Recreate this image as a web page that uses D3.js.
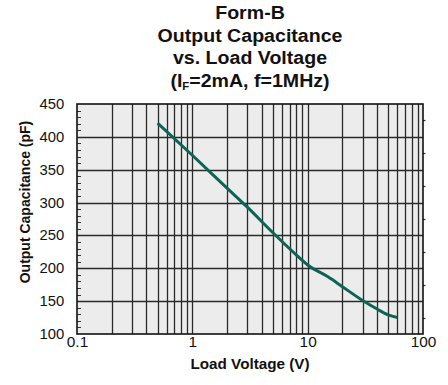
<!DOCTYPE html>
<html>
<head>
<meta charset="utf-8">
<script src="https://cdn.jsdelivr.net/npm/d3@7"></script>
<style>
  html, body { margin: 0; padding: 0; background: #fff; }
  svg { display: block; font-family: "Liberation Sans", Arial, Helvetica, sans-serif; }
</style>
</head>
<body>
<svg id="chart" width="448" height="385"></svg>
<script>
// Output capacitance vs. load voltage (Form-B)
const voltage = [0.5, 1, 2, 3, 5, 8, 10, 15, 20, 30, 40, 50, 60];
const capacitance = [421, 372, 322, 293, 254, 220, 205, 187, 172, 151, 138, 129, 125];

const xTickValues = [0.1, 1, 10, 100];
const xTickLabels = ["0.1", "1", "10", "100"];
const yTickValues = [100, 150, 200, 250, 300, 350, 400, 450];

const titleLines = ["Form-B", "Output Capacitance", "vs. Load Voltage"];

// the lettering is set slightly wide
const WIDE = 1.1;

const svg = d3.select("#chart");
const margin = { left: 77, right: 25, top: 104, bottom: 51 };
const W = 448, H = 385;
const x0 = margin.left, x1 = W - margin.right;
const y0 = H - margin.bottom, y1 = margin.top;

const x = d3.scaleLog().domain([0.1, 100]).range([x0, x1]);
const y = d3.scaleLinear().domain([100, 450]).range([y0, y1]);

// plot background
svg.append("rect")
  .attr("x", x0).attr("y", y1)
  .attr("width", x1 - x0).attr("height", y0 - y1)
  .attr("fill", "#ececed");

// log grid: every integer step within each decade
const xGrid = [];
for (let d = 0.1; d < 100; d *= 10) {
  for (let k = 1; k <= 9; k++) xGrid.push(+(d * k).toPrecision(3));
}
svg.append("g").selectAll("line").data(xGrid.filter(v => v > 0.1)).join("line")
  .attr("x1", d => Math.round(x(d)) + 0.5).attr("x2", d => Math.round(x(d)) + 0.5)
  .attr("y1", y1).attr("y2", y0)
  .attr("stroke", "#2a2a2a").attr("stroke-width", 1.3);

svg.append("g").selectAll("line").data(yTickValues.slice(1, -1)).join("line")
  .attr("x1", x0).attr("x2", x1)
  .attr("y1", d => Math.round(y(d)) + 0.5).attr("y2", d => Math.round(y(d)) + 0.5)
  .attr("stroke", "#2a2a2a").attr("stroke-width", 1.3);

// minor ticks on the left edge (every 10 pF, inward)
const leftMinor = d3.range(110, 450, 10).filter(v => v % 50 !== 0);
svg.append("g").selectAll("line").data(leftMinor).join("line")
  .attr("x1", x0).attr("x2", x0 + 4)
  .attr("y1", d => Math.round(y(d)) + 0.5).attr("y2", d => Math.round(y(d)) + 0.5)
  .attr("stroke", "#333").attr("stroke-width", 1);

// small ticks on the right edge at the half steps
const rightMinor = d3.range(125, 450, 50);
svg.append("g").selectAll("line").data(rightMinor).join("line")
  .attr("x1", x1).attr("x2", x1 + 2.5)
  .attr("y1", d => Math.round(y(d)) + 0.5).attr("y2", d => Math.round(y(d)) + 0.5)
  .attr("stroke", "#333").attr("stroke-width", 1.2);

// frame
svg.append("rect")
  .attr("x", x0).attr("y", y1)
  .attr("width", x1 - x0).attr("height", y0 - y1)
  .attr("fill", "none").attr("stroke", "#111").attr("stroke-width", 1.6);

// axes (labels only; lines are drawn by the grid and frame)
const xAxis = d3.axisBottom(x).tickValues(xTickValues)
  .tickFormat((d, i) => xTickLabels[i]).tickSize(0).tickPadding(3);
const gx = svg.append("g").attr("transform", `translate(0,${y0})`).call(xAxis);
gx.select(".domain").remove();
gx.selectAll("text").attr("font-size", 14).attr("fill", "#111")
  .attr("font-family", "Liberation Sans, Arial, sans-serif")
  .attr("transform", `scale(${WIDE},1)`);

const yAxis = d3.axisLeft(y).tickValues(yTickValues).tickFormat(d3.format("d"))
  .tickSize(0).tickPadding(12);
const gy = svg.append("g").attr("transform", `translate(${x0},0)`).call(yAxis);
gy.select(".domain").remove();
gy.selectAll("text").attr("font-size", 14).attr("fill", "#111")
  .attr("font-family", "Liberation Sans, Arial, sans-serif")
  .attr("transform", "scale(1.06,1)");

// curve
const line = d3.line()
  .x((d, i) => x(voltage[i]))
  .y(d => y(d))
  .curve(d3.curveMonotoneX);
svg.append("path")
  .datum(capacitance)
  .attr("d", line)
  .attr("fill", "none")
  .attr("stroke", "#0d6456")
  .attr("stroke-width", 3)
  .attr("stroke-linejoin", "round");

// title
const title = svg.append("g")
  .attr("transform", `translate(250,0) scale(1.12,1)`)
  .attr("font-weight", "bold").attr("font-size", 17.5)
  .attr("text-anchor", "middle").attr("fill", "#111");
titleLines.forEach((t, i) => {
  title.append("text").attr("x", 0).attr("y", 19.5 + i * 22.4).text(t);
});
const t4 = title.append("text").attr("x", 0).attr("y", 19.5 + 3 * 22.4);
t4.append("tspan").text("(I");
t4.append("tspan").attr("font-size", 10).attr("dy", 3.5).text("F");
t4.append("tspan").attr("dy", -3.5).text("=2mA, f=1MHz)");

// axis titles
svg.append("text")
  .attr("transform", "translate(250,369) scale(1.09,1)")
  .attr("text-anchor", "middle").attr("font-weight", "bold").attr("font-size", 14)
  .attr("fill", "#111")
  .text("Load Voltage (V)");

svg.append("text")
  .attr("transform", "translate(30,202) rotate(-90)")
  .attr("text-anchor", "middle").attr("font-weight", "bold").attr("font-size", 14)
  .attr("fill", "#111")
  .text("Output Capacitance (pF)");
</script>
</body>
</html>
